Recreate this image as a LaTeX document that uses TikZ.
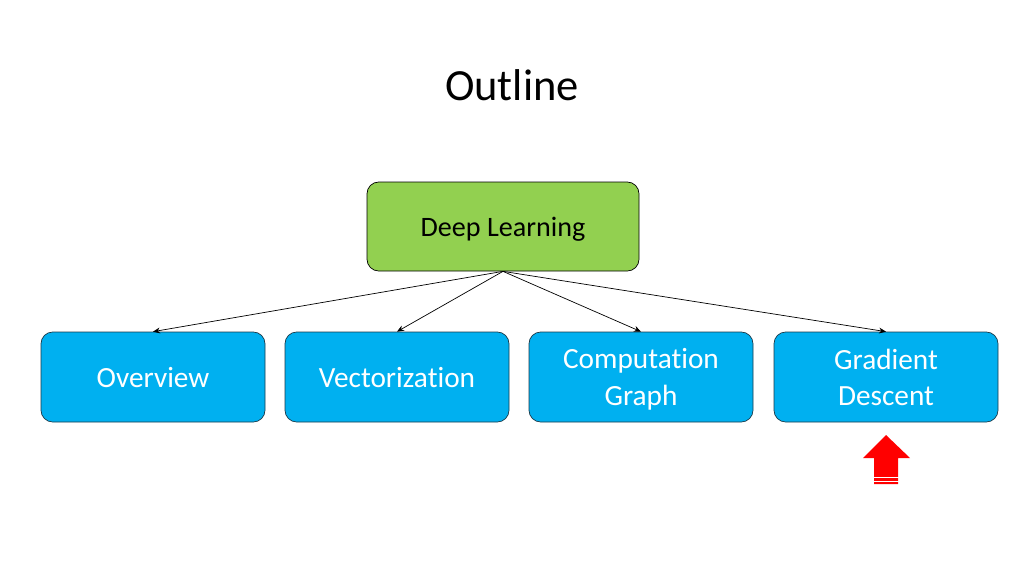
\documentclass[tikz,border=0pt]{standalone}
\usepackage{fontspec}
\setmainfont{Carlito}[RawFeature={-liga;-clig;-calt;-dlig}]
\usetikzlibrary{arrows.meta}
\definecolor{dlgreen}{HTML}{92D050}
\definecolor{dlblue}{HTML}{00B0F0}
\definecolor{dlborder}{HTML}{1A3A4A}
\begin{document}
\begin{tikzpicture}[x=0.03cm,y=-0.03cm,
  topbox/.style={draw=black,line width=0.6pt,fill=dlgreen,rounded corners=10pt,minimum width=272*0.03cm,minimum height=89*0.03cm,font=\fontsize{24}{28}\selectfont,text=black,inner sep=0pt,text depth=0pt},
  subbox/.style={draw=dlborder,line width=0.6pt,fill=dlblue,rounded corners=10pt,minimum width=224*0.03cm,minimum height=90*0.03cm,font=\fontsize{25}{31}\selectfont,text=white,align=center,inner sep=0pt,text depth=0pt},
  link/.style={-{Stealth[length=6pt,width=5pt]},line width=0.6pt,black}]
\useasboundingbox (0,0) rectangle (1024,576);
\node[font=\fontsize{38}{44}\selectfont] (title) at (512,85) {Outline};
\node[topbox] (dl) at (503,226.5) {Deep Learning};
\node[subbox] (ov) at (153,377) {Overview};
\node[subbox] (vec) at (397,377) {Vectorization};
\node[subbox] (cg) at (641,377) {Computation\\Graph};
\node[subbox] (gd) at (886,377) {Gradient\\Descent};
\draw[link] (dl.south) -- (ov.north);
\draw[link] (dl.south) -- (vec.north);
\draw[link] (dl.south) -- (cg.north);
\draw[link] (dl.south) -- (gd.north);
\coordinate (tip) at (886,435);
\fill[red] (tip) -- (910,458) -- (898,458) -- (898,484) -- (874,484) -- (874,458) -- (863,458) -- cycle;
\draw[white,line width=0.6pt] (873,477.5) -- (899,477.5) (873,481) -- (899,481);
\end{tikzpicture}
\end{document}
